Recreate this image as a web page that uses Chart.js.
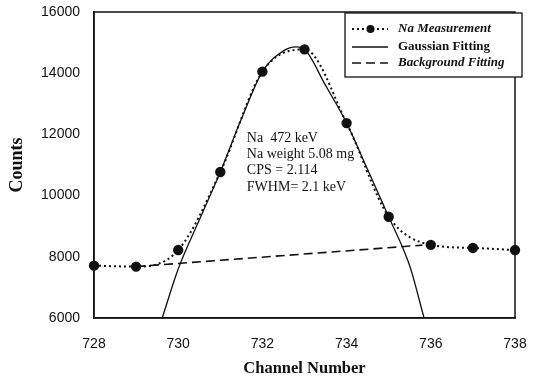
<!DOCTYPE html>
<html><head><meta charset="utf-8">
<script src="https://cdn.jsdelivr.net/npm/chart.js@4.4.1/dist/chart.umd.min.js"></script>
<style>html,body{margin:0;padding:0;background:#fff;}#wrap{width:535px;height:381px;}</style>
</head><body><div id="wrap"><canvas id="c" width="535" height="381"></canvas></div>
<script>
const channels = [728, 729, 730, 731, 732, 733, 734, 735, 736, 737, 738];
const measured = [7710, 7680, 8220, 10770, 14050, 14780, 12370, 9310, 8390, 8290, 8220];
const gaussX = [729.62, 730, 730.5, 731, 731.5, 732, 732.5, 732.8, 733, 733.5, 734, 734.5, 735, 735.5, 735.84];
const gaussY = [6000, 7600, 9200, 10770, 12500, 14050, 14730, 14860, 14780, 13600, 12370, 10850, 9310, 7700, 6000];
const bgX = [729, 735.8];
const bgY = [7680, 8380];
const xTicks = [728, 730, 732, 734, 736, 738];
const yTicks = [6000, 8000, 10000, 12000, 14000, 16000];
const legendLabels = ['Na Measurement', 'Gaussian Fitting', 'Background Fitting'];
const noteLines = ['Na  472 keV', 'Na weight 5.08 mg', 'CPS = 2.114', 'FWHM= 2.1 keV'];

const pts = (xs, ys) => xs.map((x, i) => ({x: x, y: ys[i]}));

const overlay = {
  id: 'overlay',
  afterDatasetsDraw(chart) {
    const {ctx, chartArea: a, scales: {x, y}} = chart;
    ctx.save();
    ctx.strokeStyle = '#111';
    ctx.lineWidth = 1.5;
    ctx.strokeRect(a.left, a.top, a.right - a.left, a.bottom - a.top);
    ctx.fillStyle = '#111';
    ctx.font = '14px "Liberation Serif", "Times New Roman", serif';
    ctx.textBaseline = 'middle';
    ctx.textAlign = 'left';
    const nx = x.getPixelForValue(731.63);
    noteLines.forEach((t, i) => ctx.fillText(t, nx, 138 + i * 16.3));
    const L = 345, T = 13, R = 522, B = 77;
    ctx.fillStyle = '#fff';
    ctx.fillRect(L, T, R - L, B - T);
    ctx.lineWidth = 1.3;
    ctx.strokeStyle = '#111';
    ctx.strokeRect(L, T, R - L, B - T);
    const rows = [29, 47, 63];
    const sx0 = 352, sx1 = 388, tx = 398;
    ctx.lineWidth = 2;
    ctx.setLineDash([2, 3]);
    ctx.beginPath(); ctx.moveTo(sx0, rows[0]); ctx.lineTo(sx1, rows[0]); ctx.stroke();
    ctx.setLineDash([]);
    ctx.fillStyle = '#111';
    ctx.beginPath(); ctx.arc(370.5, rows[0], 4, 0, Math.PI * 2); ctx.fill();
    ctx.lineWidth = 1.3;
    ctx.beginPath(); ctx.moveTo(sx0, rows[1]); ctx.lineTo(sx1, rows[1]); ctx.stroke();
    ctx.lineWidth = 1.6;
    ctx.setLineDash([9, 5]);
    ctx.beginPath(); ctx.moveTo(sx0, rows[2]); ctx.lineTo(sx1, rows[2]); ctx.stroke();
    ctx.setLineDash([]);
    const fonts = ['italic bold 13px "Liberation Serif", serif', 'bold 13px "Liberation Serif", serif', 'italic bold 13px "Liberation Serif", serif'];
    legendLabels.forEach((t, i) => { ctx.font = fonts[i]; ctx.fillText(t, tx, rows[i]); });
    ctx.restore();
  }
};

new Chart(document.getElementById('c'), {
  type: 'line',
  data: {
    datasets: [
      {label: legendLabels[0], data: pts(channels, measured), borderColor: '#111', backgroundColor: '#111',
       borderWidth: 2, borderDash: [2, 3], pointRadius: 4.2, pointHoverRadius: 4.2, tension: 0.4,
       cubicInterpolationMode: 'monotone', clip: false},
      {label: legendLabels[1], data: pts(gaussX, gaussY), borderColor: '#111', borderWidth: 1.3,
       pointRadius: 0, cubicInterpolationMode: 'monotone'},
      {label: legendLabels[2], data: pts(bgX, bgY), borderColor: '#111', borderWidth: 1.6,
       borderDash: [9, 5], pointRadius: 0}
    ]
  },
  options: {
    responsive: false, animation: false, devicePixelRatio: 1,
    layout: {padding: {top: 12, right: 20, left: 0, bottom: 0}},
    plugins: {legend: {display: false}, tooltip: {enabled: false}},
    scales: {
      x: {type: 'linear', min: 728, max: 738,
        afterBuildTicks: s => { s.ticks = xTicks.map(v => ({value: v})); },
        afterFit: s => { s.height = 63; s.paddingLeft = 0; s.paddingRight = 0; },
        grid: {display: false, drawTicks: true, tickLength: 5, tickColor: '#111'},
        border: {display: true, color: '#111', width: 1.5},
        ticks: {color: '#111', padding: 13, maxRotation: 0, callback: v => String(v),
          font: {family: '"Liberation Sans", Arial, sans-serif', size: 14}},
        title: {display: true, text: 'Channel Number', color: '#111', padding: {bottom: 2, top: 0},
          font: {family: '"Liberation Serif", "Times New Roman", serif', size: 16.5, weight: 'bold'}}
      },
      y: {min: 6000, max: 16000,
        afterBuildTicks: s => { s.ticks = yTicks.map(v => ({value: v})); },
        afterFit: s => { s.width = 94; s.paddingTop = 0; s.paddingBottom = 0; },
        grid: {display: false, drawTicks: true, tickLength: 8, tickColor: '#111'},
        border: {display: true, color: '#111', width: 1.5},
        ticks: {color: '#111', padding: 6, callback: v => String(v),
          font: {family: '"Liberation Sans", Arial, sans-serif', size: 14}},
        title: {display: true, text: 'Counts', color: '#111', padding: {top: 7, bottom: 0},
          font: {family: '"Liberation Serif", "Times New Roman", serif', size: 18, weight: 'bold'}}
      }
    }
  },
  plugins: [overlay]
});
</script></body></html>
